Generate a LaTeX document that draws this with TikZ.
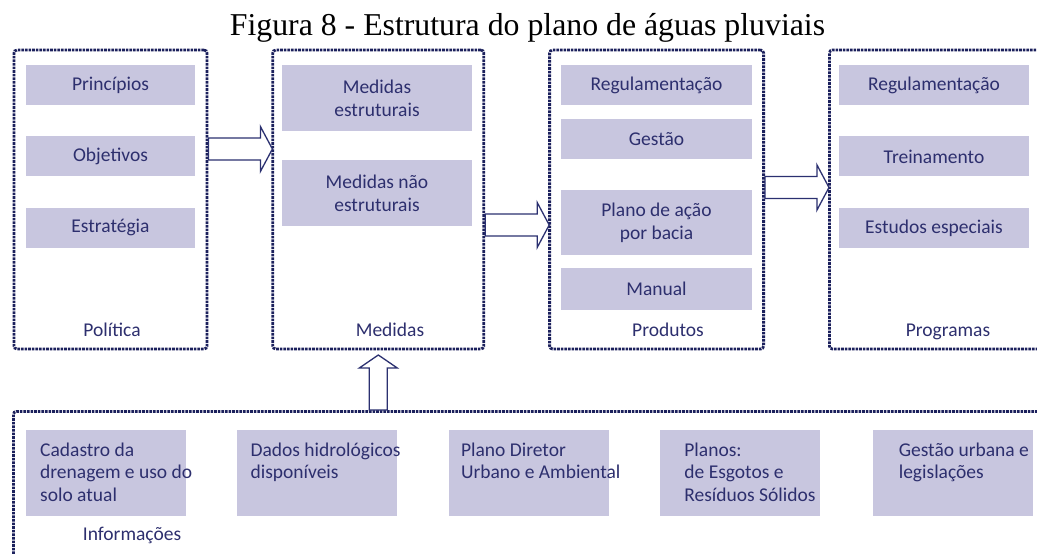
\documentclass[tikz,border=0pt]{standalone}
\usepackage{fontspec}
\setmainfont{Liberation Serif}
\newfontfamily\carlito{Carlito}
\usepackage{tikz}
\usetikzlibrary{positioning}
\definecolor{framecol}{HTML}{1B205C}
\definecolor{boxcol}{HTML}{C8C6DF}
\definecolor{txtcol}{HTML}{2D2F6E}
\definecolor{arrowcol}{HTML}{2B3070}

\begin{document}
\begin{tikzpicture}[
    x=1pt, y=-1pt,
    node distance=63pt,
    frame/.style={draw=framecol, line width=2.8pt, dash pattern=on 2.6pt off 1pt, rounded corners=3pt, inner sep=0pt, minimum height=299pt},
    box/.style={fill=boxcol, inner sep=0pt, text=txtcol, font=\carlito\fontsize{19.5}{23}\selectfont, align=center},
    btext/.style={anchor=north west, inner sep=0pt, text=txtcol, font=\carlito\fontsize{19.5}{22.5}\selectfont, align=left},
    lbl/.style={anchor=base, text=txtcol, font=\carlito\fontsize{19.5}{23}\selectfont},
    arrowline/.style={draw=arrowcol, fill=white, line width=1.3pt, line join=miter},
    rarrow/.pic={\path[arrowline] (0,-11) -- (52,-11) -- (52,-22.5) -- (64,0) -- (52,22.5) -- (52,11) -- (0,11) -- cycle;},
    uarrow/.pic={\path[arrowline] (-9,0) -- (-9,-42) -- (-19,-42) -- (0,-55) -- (19,-42) -- (9,-42) -- (9,0) -- cycle;}
]
\useasboundingbox (0,0) rectangle (1037,554);
\clip (0,0) rectangle (1037,554);

\node[anchor=base, font=\fontsize{31.8}{36}\selectfont] (title) at (527.5,35) {Figura 8 - Estrutura do plano de águas pluviais};

% frames
\node[frame, minimum width=193pt] (politica) at (110.5,199.5) {};
\node[frame, minimum width=211pt, right=of politica] (medidas) {};
\node[frame, minimum width=214pt, right=of medidas] (produtos) {};
\node[frame, minimum width=217pt, right=of produtos] (programas) {};
\node[frame, minimum width=1038pt, minimum height=160pt, anchor=north west] (informacoes) at (12,410) {};

% Politica
\node[box, minimum width=169pt, minimum height=40pt] (principios) at (110.5,85) {Princípios};
\node[box, minimum width=169pt, minimum height=40pt, below=31pt of principios] (objetivos) {Objetivos};
\node[box, minimum width=169pt, minimum height=40pt, below=31pt of objetivos] (estrategia) {Estratégia};
\node[lbl] (lblpolitica) at (112,336) {Política};

% Medidas
\node[box, minimum width=190pt, minimum height=66pt] (estruturais) at (377,98) {Medidas\\estruturais};
\node[box, minimum width=190pt, minimum height=66pt, below=29pt of estruturais] (naoestruturais) {Medidas não\\estruturais};
\node[lbl] (lblmedidas) at (390,336) {Medidas};

% Produtos
\node[box, minimum width=191pt, minimum height=40pt] (regulprod) at (656.5,85) {Regulamentação};
\node[box, minimum width=191pt, minimum height=40pt, below=14pt of regulprod] (gestao) {Gestão};
\node[box, minimum width=191pt, minimum height=65pt, below=30pt of gestao] (planoacao) {Plano de ação\\por bacia};
\node[box, minimum width=191pt, minimum height=42pt, below=13pt of planoacao] (manual) {Manual};
\node[lbl] (lblprodutos) at (668,336) {Produtos};

% Programas
\node[box, minimum width=190pt, minimum height=40pt] (regulprog) at (934,85) {Regulamentação};
\node[box, minimum width=190pt, minimum height=40pt, below=31pt of regulprog] (treinamento) {Treinamento};
\node[box, minimum width=190pt, minimum height=40pt, below=31pt of treinamento] (estudos) {Estudos especiais};
\node[lbl] (lblprogramas) at (948,336) {Programas};

% Informacoes
\node[box, minimum width=160pt, minimum height=86pt, anchor=north west] (cadastro) at (26,430) {};
\node[box, minimum width=160pt, minimum height=86pt, right=50pt of cadastro] (dados) {};
\node[box, minimum width=160pt, minimum height=86pt, right=52pt of dados] (diretor) {};
\node[box, minimum width=160pt, minimum height=86pt, right=51pt of diretor] (planos) {};
\node[box, minimum width=160pt, minimum height=86pt, right=52pt of planos] (urbana) {};
\node[btext] (cadastrotxt) at ([xshift=14pt, yshift=-12.5pt]cadastro.north west) {Cadastro da\\drenagem e uso do\\solo atual};
\node[btext] (dadostxt) at ([xshift=14pt, yshift=-12.5pt]dados.north west) {Dados hidrológicos\\disponíveis};
\node[btext] (diretortxt) at ([xshift=12pt, yshift=-12.5pt]diretor.north west) {Plano Diretor\\Urbano e Ambiental};
\node[btext] (planostxt) at ([xshift=24pt, yshift=-12.5pt]planos.north west) {Planos:\\de Esgotos e\\Resíduos Sólidos};
\node[btext] (urbanatxt) at ([xshift=26pt, yshift=-12.5pt]urbana.north west) {Gestão urbana e\\legislações};
\node[lbl] (lblinformacoes) at (132,540) {Informações};

% arrows
\pic at (politica.east |- 0,149) {rarrow};
\pic at (medidas.east |- 0,225) {rarrow};
\pic at (produtos.east |- 0,187.5) {rarrow};
\pic at (medidas.south |- informacoes.north) {uarrow};

\end{tikzpicture}
\end{document}
